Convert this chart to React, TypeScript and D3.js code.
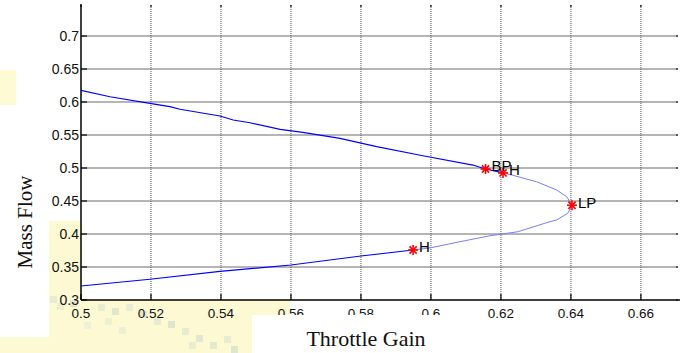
import React, { useEffect, useRef } from 'react';
import * as d3 from 'd3';

// upper (stable) branch of the continuation curve
const upperGain = [0.5, 0.5083, 0.5197, 0.5254, 0.5283, 0.5397, 0.5435, 0.5483, 0.5569, 0.5634, 0.574, 0.5845, 0.5977, 0.612, 0.6156, 0.6206];
const upperFlow = [0.6177, 0.608, 0.598, 0.5929, 0.589, 0.5788, 0.5727, 0.5686, 0.5586, 0.5541, 0.545, 0.5323, 0.5186, 0.5045, 0.4985, 0.4925];

// unstable part (between the two Hopf points, through the limit point)
const unstableGain = [0.6206, 0.6234, 0.6302, 0.6359, 0.6388, 0.6403, 0.6391, 0.6359, 0.634, 0.6249, 0.6197, 0.6169, 0.6083, 0.6, 0.5949];
const unstableFlow = [0.4925, 0.489, 0.4792, 0.4667, 0.4565, 0.4436, 0.4314, 0.4212, 0.4187, 0.4035, 0.3995, 0.3974, 0.3883, 0.3792, 0.3758];

// lower (stable) branch
const lowerGain = [0.5949, 0.58, 0.56, 0.5397, 0.5197, 0.5];
const lowerFlow = [0.3758, 0.3667, 0.353, 0.3434, 0.3314, 0.3212];

// special points
const pointLabels = ['BP', 'H', 'LP', 'H'];
const pointGain = [0.6156, 0.6206, 0.6403, 0.5949];
const pointFlow = [0.4985, 0.4925, 0.4436, 0.3758];

const xTicks = [0.5, 0.52, 0.54, 0.56, 0.58, 0.6, 0.62, 0.64, 0.66];
const yTicks = [0.3, 0.35, 0.4, 0.45, 0.5, 0.55, 0.6, 0.65, 0.7];

// scanned-page smudges behind the figure
const smudges: [number, number, number, number, string][] = [
    [50, 296, 7, 7, '#e6ebd1'], [57, 303, 7, 7, '#eceed3'], [70, 300, 7, 7, '#e2e8d0'],
    [98, 304, 7, 7, '#e8ecd2'], [112, 308, 7, 7, '#e0e7cf'], [126, 304, 7, 7, '#eaedd3'],
    [140, 311, 7, 7, '#e3e9d0'], [154, 318, 7, 7, '#e6ebd1'], [168, 321, 7, 7, '#dfe6cf'],
    [182, 328, 7, 7, '#e6ebd1'], [196, 335, 7, 7, '#e2e8d0'], [189, 342, 7, 7, '#eaedd3'],
    [210, 342, 7, 7, '#e4e9d0'], [224, 336, 7, 7, '#e9ecd2'], [231, 346, 7, 7, '#e0e7cf'],
    [105, 318, 7, 7, '#eef0d4'], [84, 322, 7, 7, '#eff1d4'], [119, 327, 7, 7, '#ecefd3'],
];

const App: React.FC = () => {
    const chartRef = useRef<SVGSVGElement>(null);

    useEffect(() => {
        document.body.style.margin = '0';
        if (!chartRef.current) return;

        const svg = d3.select(chartRef.current);
        svg.selectAll('*').remove();

        const left = 81, right = 678, top = 5, bottom = 300;
        const x = d3.scaleLinear().domain([0.5, 0.6706]).range([left, right]);
        const y = d3.scaleLinear().domain([0.3, 0.747]).range([bottom, top]);

        // background of the scanned page
        svg.append('rect').attr('width', 691).attr('height', 353).attr('fill', '#fff');
        svg.append('rect').attr('x', 0).attr('y', 70).attr('width', 16).attr('height', 35).attr('fill', '#fefbd4');
        const yellow = '#fcf9d3';
        svg.append('rect').attr('x', 49).attr('y', 221).attr('width', 241).attr('height', 116).attr('fill', yellow);
        svg.append('rect').attr('x', 0).attr('y', 337).attr('width', 252).attr('height', 16).attr('fill', yellow);
        svg.selectAll('rect.smudge')
            .data(smudges)
            .enter().append('rect')
            .attr('class', 'smudge')
            .attr('x', d => d[0]).attr('y', d => d[1])
            .attr('width', d => d[2]).attr('height', d => d[3])
            .attr('fill', d => d[4]);

        // plot area
        svg.append('rect').attr('x', left).attr('y', top).attr('width', right - left).attr('height', bottom - top).attr('fill', '#fff');

        // grid
        svg.append('g').selectAll('line')
            .data(yTicks.filter(t => t > 0.3))
            .enter().append('line')
            .attr('x1', left).attr('x2', right)
            .attr('y1', d => y(d)).attr('y2', d => y(d))
            .attr('stroke', '#9c9c9c').attr('stroke-width', 1.4);
        svg.append('g').selectAll('line')
            .data(xTicks.filter(t => t > 0.5))
            .enter().append('line')
            .attr('x1', d => x(d)).attr('x2', d => x(d))
            .attr('y1', top).attr('y2', bottom)
            .attr('stroke', '#555').attr('stroke-width', 1).attr('stroke-dasharray', '1,1');

        // ticks (inside, on all four sides)
        const ticks = svg.append('g').attr('stroke', '#000').attr('stroke-width', 1.2);
        xTicks.forEach(t => {
            ticks.append('line').attr('x1', x(t)).attr('x2', x(t)).attr('y1', bottom).attr('y2', bottom - 6);
            ticks.append('line').attr('x1', x(t)).attr('x2', x(t)).attr('y1', top).attr('y2', top + 2);
        });
        yTicks.forEach(t => {
            ticks.append('line').attr('x1', left).attr('x2', left + 6).attr('y1', y(t)).attr('y2', y(t));
            ticks.append('line').attr('x1', right).attr('x2', right - 2).attr('y1', y(t)).attr('y2', y(t));
        });

        // axes lines
        svg.append('line').attr('x1', left).attr('x2', left).attr('y1', top - 1).attr('y2', bottom)
            .attr('stroke', '#000').attr('stroke-width', 1.5);
        svg.append('line').attr('x1', left).attr('x2', right + 2).attr('y1', bottom).attr('y2', bottom)
            .attr('stroke', '#000').attr('stroke-width', 1.5);

        // curve
        const line = d3.line<[number, number]>().x(d => x(d[0])).y(d => y(d[1]));
        const zip = (a: number[], b: number[]) => a.map((v, i) => [v, b[i]] as [number, number]);
        svg.append('path').datum(zip(upperGain, upperFlow)).attr('d', line)
            .attr('fill', 'none').attr('stroke', '#0000ff').attr('stroke-width', 1.2);
        svg.append('path').datum(zip(lowerGain, lowerFlow)).attr('d', line)
            .attr('fill', 'none').attr('stroke', '#0000ff').attr('stroke-width', 1.2);
        svg.append('path').datum(zip(unstableGain, unstableFlow)).attr('d', line)
            .attr('fill', 'none').attr('stroke', '#7d7dff').attr('stroke-width', 1);

        // special points: red asterisks and labels
        const pts = pointLabels.map((l, i) => ({ label: l, gx: pointGain[i], fy: pointFlow[i] }));
        const star = svg.append('g').attr('stroke', '#ff0000').attr('stroke-width', 1.6);
        const r = 5, rd = 3.6;
        pts.forEach(p => {
            const cx = x(p.gx), cy = y(p.fy);
            star.append('line').attr('x1', cx - r).attr('x2', cx + r).attr('y1', cy).attr('y2', cy);
            star.append('line').attr('x1', cx).attr('x2', cx).attr('y1', cy - r).attr('y2', cy + r);
            star.append('line').attr('x1', cx - rd).attr('x2', cx + rd).attr('y1', cy - rd).attr('y2', cy + rd);
            star.append('line').attr('x1', cx - rd).attr('x2', cx + rd).attr('y1', cy + rd).attr('y2', cy - rd);
        });
        svg.append('g').selectAll('text')
            .data(pts)
            .enter().append('text')
            .attr('x', d => x(d.gx) + 6)
            .attr('y', d => y(d.fy) + 2.5)
            .attr('font-family', 'Liberation Sans, Arial, sans-serif')
            .attr('font-size', 15)
            .attr('fill', '#000')
            .text(d => d.label);

        // tick labels
        svg.append('g').selectAll('text')
            .data(yTicks)
            .enter().append('text')
            .attr('x', left - 2).attr('y', d => y(d) + 5)
            .attr('text-anchor', 'end')
            .attr('font-family', 'Liberation Sans, Arial, sans-serif')
            .attr('font-size', 14).attr('fill', '#111')
            .text(d => String(d));
        svg.append('g').selectAll('text')
            .data(xTicks)
            .enter().append('text')
            .attr('x', d => x(d)).attr('y', 318)
            .attr('text-anchor', 'middle')
            .attr('font-family', 'Liberation Sans, Arial, sans-serif')
            .attr('font-size', 13.5).attr('fill', '#111')
            .text(d => String(d));

        // pasted white box holding the x-axis title (clips part of the tick labels)
        svg.append('rect').attr('x', 252).attr('y', 315).attr('width', 220).attr('height', 38).attr('fill', '#fff');

        // axis titles
        svg.append('text')
            .attr('x', 366).attr('y', 346)
            .attr('text-anchor', 'middle')
            .attr('font-family', 'Liberation Serif, Times New Roman, serif')
            .attr('font-size', 22).attr('fill', '#111')
            .text('Throttle Gain');
        svg.append('text')
            .attr('transform', 'translate(32,222) rotate(-90)')
            .attr('text-anchor', 'middle')
            .attr('font-family', 'Liberation Serif, Times New Roman, serif')
            .attr('font-size', 21).attr('fill', '#111')
            .text('Mass Flow');
    }, []);

    return <svg ref={chartRef} width={691} height={353} style={{ display: 'block' }}></svg>;
};

export default App;
